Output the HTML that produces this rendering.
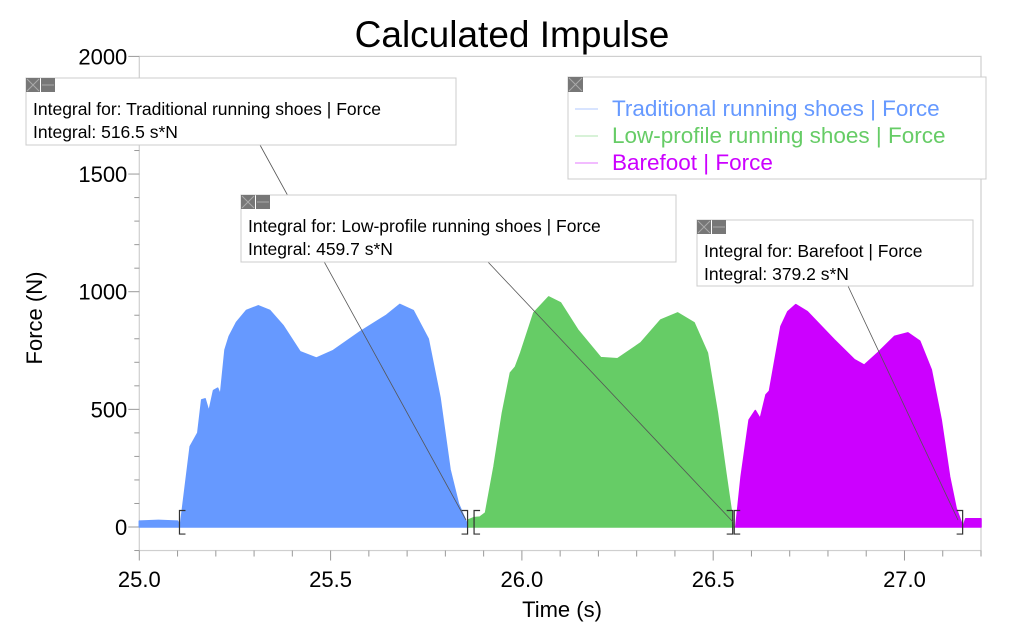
<!DOCTYPE html>
<html><head><meta charset="utf-8"><style>
html,body{margin:0;padding:0;background:#fff;}
svg{display:block;font-family:"Liberation Sans",Arial,sans-serif;}
</style></head><body>
<svg id="chart" width="1024" height="640" viewBox="0 0 1024 640">
<text x="512" y="47" font-size="37" text-anchor="middle" fill="#000">Calculated Impulse</text>
<text x="562" y="617" font-size="22" text-anchor="middle">Time (s)</text>
<text transform="translate(42,318) rotate(-90)" font-size="22" text-anchor="middle">Force  (N)</text>
<g id="plot"></g>
</svg>
<script>
const xTicks=[25.0,25.5,26.0,26.5,27.0];
const xTickLabels=["25.0","25.5","26.0","26.5","27.0"];
const yTicks=[0,500,1000,1500,2000];
const yTickLabels=["0","500","1000","1500","2000"];
const blueT=[25.0,25.05,25.1,25.107,25.133,25.153,25.163,25.172,25.182,25.194,25.205,25.212,25.224,25.235,25.254,25.28,25.311,25.341,25.376,25.42,25.463,25.507,25.577,25.646,25.681,25.716,25.755,25.786,25.812,25.834,25.855,25.86];
const blueF=[25,28,25,0,342,400,540,545,490,580,590,560,753,810,870,920,940,920,855,745,718,750,830,900,946,920,800,550,245,100,20,0];
const greenT=[25.86,25.875,25.89,25.905,25.927,25.949,25.97,25.983,25.997,26.031,26.07,26.101,26.146,26.206,26.25,26.311,26.363,26.407,26.45,26.485,26.511,26.533,26.548,26.553];
const greenF=[30,40,42,60,257,485,655,680,740,910,978,953,838,720,715,783,880,910,868,740,485,230,60,0];
const magT=[26.559,26.573,26.594,26.61,26.623,26.638,26.647,26.66,26.677,26.695,26.716,26.746,26.816,26.869,26.895,26.93,26.974,27.009,27.04,27.07,27.096,27.118,27.135,27.153,27.16,27.2];
const magF=[0,214,455,495,460,562,577,697,852,915,945,915,796,711,688,740,810,825,790,668,455,214,80,0,35,35];
const X0=139.3,X1=981,T0=25.0,T1=27.2;
const Y0=527,PPN=0.2353;
function sx(t){return X0+(t-T0)*(X1-X0)/(T1-T0);}
function sy(f){return Y0-f*PPN;}
const NS="http://www.w3.org/2000/svg";
const plot=document.getElementById('plot');
function mk(tag,attrs,parent){const e=document.createElementNS(NS,tag);for(const k in attrs)e.setAttribute(k,attrs[k]);(parent||plot).appendChild(e);return e;}
// frame
let fr=mk('rect',{x:X0,y:sy(2000),width:X1-X0,height:sy(-100)-sy(2000),fill:'none',stroke:'#cfcfcf','stroke-width':1.2});


let zl=mk('line',{x1:X0,x2:X1,y1:sy(0),y2:sy(0),stroke:'#999','stroke-width':1});


// y ticks
for(let v=-100;v<=2000;v+=100){const maj=v%500===0;
 let t=mk('line',{x1:X0-(maj?11:5),x2:X0,y1:sy(v),y2:sy(v),stroke:'#999','stroke-width':1});
 
 }
yTicks.forEach((v,i)=>{let t=mk('text',{x:X0-12,y:sy(v)+8,'font-size':22,'text-anchor':'end'});t.textContent=yTickLabels[i];
 
 });
// x ticks
for(let k=0;k<=22;k++){const v=25+k*0.1;const maj=k%5===0;
 let t=mk('line',{x1:sx(v),x2:sx(v),y1:sy(-100),y2:sy(-100)+(maj?10:6),stroke:'#999','stroke-width':1});
 
 }
xTicks.forEach((v,i)=>{let t=mk('text',{x:sx(v),y:587,'font-size':22,'text-anchor':'middle'});t.textContent=xTickLabels[i];
 
 });
// series
function area(T,F,col,name){
 let d='M'+sx(T[0])+','+sy(0);
 T.forEach((t,i)=>{d+=' L'+sx(t).toFixed(1)+','+sy(F[i]).toFixed(1);});
 d+=' L'+sx(T[T.length-1])+','+sy(0)+' Z';
 let p=mk('path',{d:d,fill:col,stroke:col,'stroke-width':1.5,'stroke-linejoin':'round'});
 
 }
area(blueT,blueF,'#6699ff','traditional-shoes-area');
area(greenT,greenF,'#66cc66','low-profile-shoes-area');
area(magT,magF,'#cc00ff','barefoot-area');
// brackets
function bracket(t,open){const x=sx(t);const y1=sy(70),y2=sy(-30);const dx=open?6:-6;
 let p=mk('path',{d:`M${x+dx},${y1} L${x},${y1} L${x},${y2} L${x+dx},${y2}`,fill:'none',stroke:'#333','stroke-width':1.2});
 
 }
bracket(25.105,true);bracket(25.858,false);bracket(25.875,true);bracket(26.551,false);bracket(26.555,true);bracket(27.152,false);
// leader lines
[[260,145,466,520],[488,262,733,522],[848,286,958,520]].forEach(l=>{
 let e=mk('line',{x1:l[0],y1:l[1],x2:l[2],y2:l[3],stroke:'#555','stroke-width':0.8});
 
 });
// callouts
function callout(x,y,w,h,l1,l2,name){
 let g=mk('g',{});
 
 
 mk('rect',{x:x,y:y,width:w,height:h,fill:'#fff',stroke:'#ccc','stroke-width':1},g);
 let c=mk('rect',{x:x,y:y,width:14,height:14,fill:'#777'},g);
 
 
 mk('path',{d:`M${x+1},${y+1} L${x+13},${y+13} M${x+13},${y+1} L${x+1},${y+13}`,stroke:'#aaa','stroke-width':1},g);
 let m=mk('rect',{x:x+15,y:y,width:14,height:14,fill:'#777'},g);
 
 
 mk('line',{x1:x+16,x2:x+28,y1:y+7,y2:y+7,stroke:'#aaa','stroke-width':1},g);
 let t1=mk('text',{x:x+7,y:y+37,'font-size':17.5},g);t1.textContent=l1;
 let t2=mk('text',{x:x+7,y:y+60,'font-size':17.5},g);t2.textContent=l2;}
callout(26,78,430,67,'Integral for: Traditional running shoes | Force','Integral: 516.5 s*N','callout-traditional');
callout(241,195,435,67,'Integral for: Low-profile running shoes | Force','Integral: 459.7 s*N','callout-low-profile');
callout(697,220,276,66,'Integral for: Barefoot | Force','Integral: 379.2 s*N','callout-barefoot');
// legend
let lg=mk('g',{});


mk('rect',{x:568,y:77,width:418,height:102,fill:'#fff',stroke:'#ccc','stroke-width':1},lg);
let lc=mk('rect',{x:568,y:77,width:15,height:15,fill:'#777'},lg);


mk('path',{d:'M569,78 L582,91 M582,78 L569,91',stroke:'#aaa','stroke-width':1},lg);
[['Traditional running shoes | Force','#6699ff',108],['Low-profile running shoes | Force','#66cc66',135],['Barefoot | Force','#cc00ff',162]].forEach(e=>{
 let g=mk('g',{},lg);
 
 
 mk('line',{x1:575,x2:598,y1:e[2]+1,y2:e[2]+1,stroke:e[1],'stroke-opacity':0.35,'stroke-width':1.5},g);
 let t=mk('text',{x:612,y:e[2]+8,'font-size':22.5,fill:e[1]},g);t.textContent=e[0];});
</script>
</body></html>
